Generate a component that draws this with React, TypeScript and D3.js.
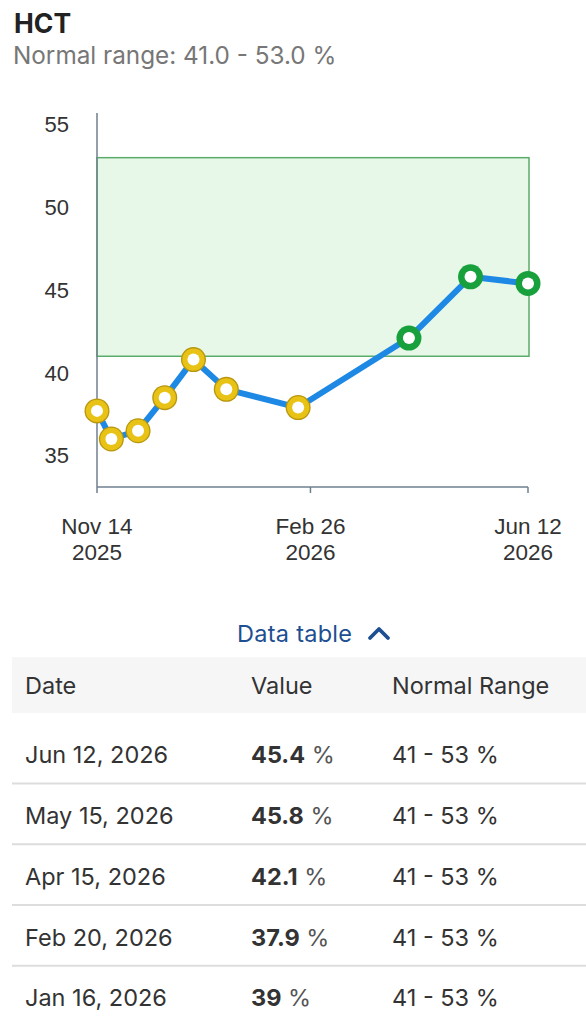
import { select, scaleLinear, scaleTime, line, timeFormat } from "d3";
import React, { useEffect, useRef } from "react";

// 측정 데이터 (HCT %)
const dates = [
  "2025-11-14",
  "2025-11-21",
  "2025-12-04",
  "2025-12-17",
  "2025-12-31",
  "2026-01-16",
  "2026-02-20",
  "2026-04-15",
  "2026-05-15",
  "2026-06-12",
];
const values = [37.7, 36.0, 36.5, 38.5, 40.8, 39, 37.9, 42.1, 45.8, 45.4];
const normalRange = [41, 53];
const yTicks = [35, 40, 45, 50, 55];
const xTicks = ["2025-11-14", "2026-02-26", "2026-06-12"];
const tableHeaders = ["Date", "Value", "Normal Range"];
const tableRowCount = 5;

const parse = (s: string) => new Date(s + "T00:00:00");

const App = () => {
  const chartRef = useRef<SVGSVGElement>(null);

  useEffect(() => {
    if (!chartRef.current) return;
    const svg = select(chartRef.current);
    svg.selectAll("*").remove();

    const uiFont = "Inter, 'Noto Sans', sans-serif";
    const chartFont = "'Liberation Sans', Arial, sans-serif";
    const uiSize = 23.5;

    // 제목
    svg
      .append("text")
      .attr("x", 14)
      .attr("y", 33)
      .attr("font-family", uiFont)
      .attr("font-size", 26.5)
      .attr("font-weight", 700)
      .attr("fill", "#222")
      .text("HCT");
    svg
      .append("text")
      .attr("x", 13)
      .attr("y", 64)
      .attr("font-family", uiFont)
      .attr("font-size", 24.3)
      .attr("fill", "#777")
      .text(`Normal range: ${normalRange[0].toFixed(1)} - ${normalRange[1].toFixed(1)} %`);

    // 스케일
    const x = scaleTime()
      .domain([parse(dates[0]), parse(dates[dates.length - 1])])
      .range([97, 528]);
    const y = scaleLinear().domain([33.1, 55.7]).range([487, 113]);

    // 정상 범위 영역
    svg
      .append("rect")
      .attr("x", x.range()[0])
      .attr("y", y(normalRange[1]))
      .attr("width", x.range()[1] - x.range()[0] + 1)
      .attr("height", y(normalRange[0]) - y(normalRange[1]))
      .attr("fill", "#e8f8e8")
      .attr("stroke", "#5aac6a")
      .attr("stroke-width", 1.5);

    // 축
    const axisColor = "#6f8190";
    svg
      .append("line")
      .attr("x1", x.range()[0])
      .attr("x2", x.range()[0])
      .attr("y1", y.range()[1])
      .attr("y2", y.range()[0])
      .attr("stroke", axisColor)
      .attr("stroke-width", 1.5);
    svg
      .append("line")
      .attr("x1", x.range()[0])
      .attr("x2", x.range()[1])
      .attr("y1", y.range()[0])
      .attr("y2", y.range()[0])
      .attr("stroke", axisColor)
      .attr("stroke-width", 1.5);

    svg
      .append("g")
      .selectAll("text")
      .data(yTicks)
      .enter()
      .append("text")
      .attr("x", 69)
      .attr("y", (d) => y(d))
      .attr("dy", "0.35em")
      .attr("text-anchor", "end")
      .attr("font-family", chartFont)
      .attr("font-size", 22)
      .attr("fill", "#333")
      .text((d) => d);

    const fmtMd = timeFormat("%b %-d");
    const fmtY = timeFormat("%Y");
    const xt = svg.append("g").selectAll("g").data(xTicks.map(parse)).enter().append("g");
    xt.append("line")
      .attr("x1", (d) => x(d))
      .attr("x2", (d) => x(d))
      .attr("y1", y.range()[0])
      .attr("y2", y.range()[0] + 6)
      .attr("stroke", axisColor)
      .attr("stroke-width", 1.5);
    xt.append("text")
      .attr("x", (d) => x(d))
      .attr("y", 534)
      .attr("text-anchor", "middle")
      .attr("font-family", chartFont)
      .attr("font-size", 22.5)
      .attr("fill", "#333")
      .text((d) => fmtMd(d));
    xt.append("text")
      .attr("x", (d) => x(d))
      .attr("y", 560)
      .attr("text-anchor", "middle")
      .attr("font-family", chartFont)
      .attr("font-size", 22.5)
      .attr("fill", "#333")
      .text((d) => fmtY(d));

    // 선
    const idx = dates.map((_, i) => i);
    const lineGenerator = line<number>()
      .x((i) => x(parse(dates[i])))
      .y((i) => y(values[i]));
    svg
      .append("path")
      .datum(idx)
      .attr("fill", "none")
      .attr("stroke", "#1e88e5")
      .attr("stroke-width", 6)
      .attr("stroke-linejoin", "round")
      .attr("d", lineGenerator);

    // 포인트
    const inRange = (v: number) => v >= normalRange[0] && v <= normalRange[1];
    const pts = svg.append("g").selectAll("g").data(idx).enter().append("g");
    pts
      .append("circle")
      .attr("cx", (i) => x(parse(dates[i])))
      .attr("cy", (i) => y(values[i]))
      .attr("r", 12.5)
      .attr("fill", (i) => (inRange(values[i]) ? "#18a03c" : "#b8960e"));
    pts
      .append("circle")
      .attr("cx", (i) => x(parse(dates[i])))
      .attr("cy", (i) => y(values[i]))
      .attr("r", 11.2)
      .attr("fill", (i) => (inRange(values[i]) ? "#18a03c" : "#e8c214"));
    pts
      .append("circle")
      .attr("cx", (i) => x(parse(dates[i])))
      .attr("cy", (i) => y(values[i]))
      .attr("r", 6)
      .attr("fill", "#fff");

    // 데이터 테이블 토글
    svg
      .append("text")
      .attr("x", 237)
      .attr("y", 642)
      .attr("font-family", uiFont)
      .attr("font-size", uiSize)
      .attr("fill", "#1d4f91")
      .attr("textLength", 115)
      .text("Data table");
    svg
      .append("path")
      .attr("d", "M370,638 L379,629 L388,638")
      .attr("fill", "none")
      .attr("stroke", "#1d4f91")
      .attr("stroke-width", 3.8)
      .attr("stroke-linecap", "round")
      .attr("stroke-linejoin", "round");

    // 테이블
    const colX = [25, 251, 392];
    svg
      .append("rect")
      .attr("x", 12)
      .attr("y", 657)
      .attr("width", 574)
      .attr("height", 56)
      .attr("fill", "#f6f6f6");
    svg
      .append("g")
      .selectAll("text")
      .data(tableHeaders)
      .enter()
      .append("text")
      .attr("x", (_, i) => colX[i])
      .attr("y", 686)
      .attr("dy", "0.35em")
      .attr("font-family", uiFont)
      .attr("font-size", uiSize)
      .attr("fill", "#333")
      .text((d) => d);

    const fmtFull = timeFormat("%b %-d, %Y");
    const rows = idx.slice().reverse().slice(0, tableRowCount);
    const rowH = 60.8;
    const rg = svg
      .append("g")
      .selectAll("g")
      .data(rows)
      .enter()
      .append("g")
      .attr("transform", (_, k) => `translate(0,${755 + k * rowH})`);
    rg.append("text")
      .attr("x", colX[0])
      .attr("dy", "0.35em")
      .attr("font-family", uiFont)
      .attr("font-size", uiSize)
      .attr("fill", "#333")
      .text((i) => fmtFull(parse(dates[i])));
    const vt = rg
      .append("text")
      .attr("x", colX[1])
      .attr("dy", "0.35em")
      .attr("font-family", uiFont)
      .attr("font-size", uiSize)
      .attr("fill", "#333");
    vt.append("tspan")
      .attr("font-weight", 700)
      .text((i) => String(values[i]));
    vt.append("tspan").attr("fill", "#555").text(" %");
    rg.append("text")
      .attr("x", colX[2])
      .attr("dy", "0.35em")
      .attr("font-family", uiFont)
      .attr("font-size", uiSize)
      .attr("fill", "#333")
      .text(`${normalRange[0]} - ${normalRange[1]} %`);
    rg.filter((_, k) => k < rows.length - 1)
      .append("line")
      .attr("x1", 12)
      .attr("x2", 586)
      .attr("y1", rowH / 2 - 2)
      .attr("y2", rowH / 2 - 2)
      .attr("stroke", "#dddddd")
      .attr("stroke-width", 2);
  }, []);

  return (
    <div style={{ position: "absolute", left: 0, top: 0 }}>
      <svg ref={chartRef} width={586} height={1024} style={{ display: "block" }}></svg>
    </div>
  );
};

export default App;
